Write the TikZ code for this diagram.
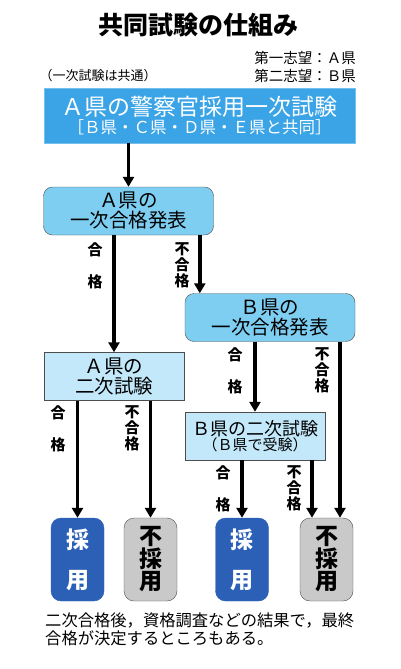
\documentclass[tikz,border=0pt]{standalone}
\usepackage{fontspec}
\setmainfont{Noto Sans CJK JP}
\usetikzlibrary{arrows.meta, positioning}

\definecolor{topblue}{HTML}{3AA4E6}
\definecolor{passblue}{HTML}{7ECEF2}
\definecolor{examblue}{HTML}{C2E8FA}
\definecolor{adoptblue}{HTML}{2C60B7}
\definecolor{rejectgray}{HTML}{C9C9C9}
\definecolor{edgegray}{HTML}{4D4D4D}

\begin{document}
\begin{tikzpicture}[x=1pt, y=-1pt]
	\tikzset{
		topnode/.style={rectangle, draw=topblue!70!white, fill=topblue, text=white, minimum width=311pt, minimum height=55pt, inner sep=0pt, align=center},
		passnode/.style={rectangle, rounded corners=9pt, draw=edgegray, fill=passblue, minimum width=170pt, minimum height=48pt, inner sep=0pt, align=center, font=\fontsize{19.5}{20}\selectfont},
		examnode/.style={rectangle, draw=edgegray, fill=examblue, minimum width=140pt, minimum height=48pt, inner sep=0pt, align=center},
		adoptnode/.style={rectangle, rounded corners=10pt, draw=adoptblue, fill=adoptblue, text=white, minimum width=53pt, minimum height=83pt, inner sep=0pt, align=center, font=\bfseries\fontsize{23}{40}\selectfont},
		rejectnode/.style={rectangle, rounded corners=10pt, draw=edgegray, fill=rejectgray, minimum width=53pt, minimum height=83pt, inner sep=0pt, align=center, font=\bfseries\fontsize{23}{22.5}\selectfont},
		lbl/.style={inner sep=0pt, align=center, font=\bfseries\fontsize{15}{32}\selectfont},
		lblthree/.style={inner sep=0pt, align=center, font=\bfseries\fontsize{15}{16}\selectfont},
		flow/.style={-{Triangle[width=11pt, length=10pt]}, line width=3.5pt},
	}
	\useasboundingbox (0,0) rectangle (401,669);

	% titles and notes
	\node[font=\bfseries\fontsize{25}{25}\selectfont] (title) at (198,25) {共同試験の仕組み};
	\node[anchor=east, align=right, inner sep=0pt, font=\fontsize{14.5}{18}\selectfont] (wish) at (356,67) {第一志望：Ａ県\\第二志望：Ｂ県};
	\node[inner sep=0pt, font=\fontsize{13}{13}\selectfont] (common) at (98,76) {（一次試験は共通）};

	% boxes
	\node[topnode] (first) at (199.5,115.5) {{\fontsize{23}{23}\selectfont Ａ県の警察官採用一次試験}\\[2pt]{\fontsize{16.5}{18}\selectfont ［Ｂ県・Ｃ県・Ｄ県・Ｅ県と共同］}};
	\node[passnode] (apass) at (128.5,211) {Ａ県の\\一次合格発表};
	\node[passnode] (bpass) at (270,317.5) {Ｂ県の\\一次合格発表};
	\node[examnode, font=\fontsize{19.5}{20}\selectfont] (aexam) at (114,376.5) {Ａ県の\\二次試験};
	\node[examnode] (bexam) at (255,436) {{\fontsize{18}{18}\selectfont Ｂ県の二次試験}\\{\fontsize{15}{18}\selectfont （Ｂ県で受験）}};

	\node[adoptnode] (aadopt) at (77.5,559.5) {採\\用};
	\node[rejectnode] (areject) at (150.5,559.5) {不\\採\\用};
	\node[adoptnode] (badopt) at (242,559.5) {採\\用};
	\node[rejectnode] (breject) at (326.5,559.5) {不\\採\\用};

	% arrows
	\draw[flow] (apass.north |- first.south) -- (apass.north);
	\draw[flow] (aexam.north |- apass.south) -- (aexam.north);
	\coordinate (afail) at ([xshift=15pt]bpass.north west);
	\draw[flow] (afail |- apass.south) -- (afail);
	\draw[flow] (bexam.north |- bpass.south) -- (bexam.north);
	\coordinate (bfail) at ([xshift=13.5pt]breject.north);
	\draw[flow] (bfail |- bpass.south) -- (bfail);
	\draw[flow] (aadopt.north |- aexam.south) -- (aadopt.north);
	\draw[flow] (areject.north |- aexam.south) -- (areject.north);
	\draw[flow] (badopt.north |- bexam.south) -- (badopt.north);
	\coordinate (bexamfail) at ([xshift=-14.5pt]breject.north);
	\draw[flow] (bexamfail |- bexam.south) -- (bexamfail);

	% labels
	\node[lbl] (l1) at (95,266) {合\\格};
	\node[lblthree] (l2) at (182,265) {不\\合\\格};
	\node[lbl] (l3) at (235,371) {合\\格};
	\node[lblthree] (l4) at (322,370) {不\\合\\格};
	\node[lbl] (l5) at (58,429) {合\\格};
	\node[lblthree] (l6) at (132,428) {不\\合\\格};
	\node[lbl] (l7) at (223,489) {合\\格};
	\node[lblthree] (l8) at (294,488) {不\\合\\格};

	\node[anchor=west, align=left, inner sep=0pt, font=\fontsize{16.3}{18}\selectfont] (foot) at (45,629) {二次合格後，資格調査などの結果で，最終\\合格が決定するところもある。};
\end{tikzpicture}
\end{document}
